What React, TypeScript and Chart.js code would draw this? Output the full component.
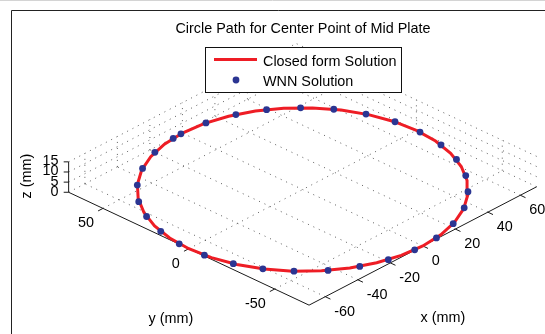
import { useEffect, useRef } from "react";
import { Chart, registerables } from "chart.js";

Chart.register(...registerables);

// ---------- text ----------
const TITLE = "Circle Path for Center Point of Mid Plate";
const SERIES_LINE = "Closed form Solution";
const SERIES_DOTS = "WNN Solution";
const X_LABEL = "x (mm)";
const Y_LABEL = "y (mm)";
const Z_LABEL = "z (mm)";

// ---------- axes ----------
const X_LIM = [-70, 70];
const Y_LIM = [-70, 70];
const Z_LIM = [0, 15];
const X_TICKS = [-60, -40, -20, 0, 20, 40, 60];
const Y_TICKS = [-50, 0, 50];
const Z_TICKS = [0, 5, 10, 15];

// ---------- data: closed form path (mm) ----------
const PATH_X = [
  70, 68.94, 65.78, 60.62, 53.62, 45, 35, 23.94, 12.16, 0,
  -12.16, -23.94, -35, -45, -53.62, -60.62, -65.78, -68.94, -70,
  -68.94, -65.78, -60.62, -53.62, -45, -35, -23.94, -12.16, 0,
  12.16, 23.94, 35, 45, 53.62, 60.62, 65.78, 68.94, 70,
];
const PATH_Y = [
  0, 12.16, 23.94, 35, 45, 53.62, 60.62, 65.78, 68.94, 70,
  68.94, 65.78, 60.62, 53.62, 45, 35, 23.94, 12.16, 0,
  -12.16, -23.94, -35, -45, -53.62, -60.62, -65.78, -68.94, -70,
  -68.94, -65.78, -60.62, -53.62, -45, -35, -23.94, -12.16, 0,
];
const PATH_Z = 0;

// ---------- data: WNN solution points (mm) ----------
const WNN_X = [
  27.1, 39.1, 50.2, 59.0, 65.4, 69.1, 70.0, 68.1, 63.6, 56.3, 46.9, 35.8,
  22.7, 9.0, -4.8, -18.6, -31.1, -42.9, -53.3, -60.9, -66.3, -69.5, -69.8,
  -67.4, -62.3, -55.4, -45.5, -33.6, -20.0, -6.0, -0.9, 13.2,
];
const WNN_Y = [
  64.5, 58.0, 48.7, 37.7, 25.0, 11.6, -2.1, -16.1, -29.4, -41.7, -51.9, -60.2,
  -66.2, -69.4, -69.8, -67.5, -62.7, -55.4, -45.4, -34.5, -22.4, -8.6, 5.8,
  18.8, 31.9, 43.0, 53.2, 61.4, 67.1, 69.7, 70.0, 68.8,
];
const WNN_Z = 0;

// ---------- view (orthographic projection of the 3-D box) ----------
const W = 545;
const H = 334;
const ORIGIN = { x: 303, y: 190 };
const EX = { x: 1.646, y: -0.863 };
const EY = { x: -1.739, y: -0.823 };
const EZ = 2.07;
const FONT = "14.4px 'Liberation Sans', Arial, Helvetica, sans-serif";

function proj(x: number, y: number, z: number) {
  return {
    x: ORIGIN.x + x * EX.x + y * EY.x,
    y: ORIGIN.y + x * EX.y + y * EY.y - z * EZ,
  };
}

function seg(a: { x: number; y: number }, b: { x: number; y: number }, color: string, width: number, dash: number[], order: number) {
  return {
    label: "",
    data: [a, b],
    showLine: true,
    borderColor: color,
    borderWidth: width,
    borderDash: dash,
    pointRadius: 0,
    pointHoverRadius: 0,
    fill: false,
    order,
  };
}

export default function App() {
  const ref = useRef<HTMLCanvasElement | null>(null);

  useEffect(() => {
    document.body.style.margin = "0";
    const canvas = ref.current;
    if (!canvas) return;

    const GRID = "rgba(40,40,40,0.75)";
    const GDASH = [1, 5];
    const AX = "#1a1a1a";
    const [x0, x1] = X_LIM;
    const [y0, y1] = Y_LIM;
    const [z0, z1] = Z_LIM;

    const datasets: any[] = [];
    datasets.push({
      label: SERIES_DOTS,
      data: WNN_X.map((x, i) => proj(x, WNN_Y[i], WNN_Z)),
      showLine: false,
      pointRadius: 3.4,
      pointHoverRadius: 3.4,
      pointBackgroundColor: "#2b3592",
      pointBorderWidth: 0,
      order: 0,
    });
    datasets.push({
      label: SERIES_LINE,
      data: PATH_X.map((x, i) => proj(x, PATH_Y[i], PATH_Z)),
      showLine: true,
      borderColor: "#ee1d25",
      borderWidth: 3,
      pointRadius: 0,
      pointHoverRadius: 0,
      tension: 0,
      fill: false,
      order: 1,
    });

    // axis lines
    datasets.push(seg(proj(x0, y0, z0), proj(x1, y0, z0), AX, 1, [], 2));
    datasets.push(seg(proj(x0, y0, z0), proj(x0, y1, z0), AX, 1, [], 2));
    datasets.push(seg(proj(x0, y1, z0), proj(x0, y1, z1), AX, 1, [], 2));
    // tick marks (outward)
    X_TICKS.forEach((t) => datasets.push(seg(proj(t, y0, z0), proj(t, y0 - 3, z0), AX, 1, [], 2)));
    Y_TICKS.forEach((t) => datasets.push(seg(proj(x0, t, z0), proj(x0 - 3, t, z0), AX, 1, [], 2)));
    Z_TICKS.forEach((t) => {
      const p = proj(x0, y1, t);
      datasets.push(seg(p, { x: p.x - 5, y: p.y }, AX, 1, [], 2));
    });

    // floor grid
    X_TICKS.forEach((t) => datasets.push(seg(proj(t, y0, z0), proj(t, y1, z0), GRID, 1, GDASH, 3)));
    Y_TICKS.forEach((t) => datasets.push(seg(proj(x0, t, z0), proj(x1, t, z0), GRID, 1, GDASH, 3)));
    // back wall x = x1
    Y_TICKS.forEach((t) => datasets.push(seg(proj(x1, t, z0), proj(x1, t, z1), GRID, 1, GDASH, 3)));
    Z_TICKS.forEach((t) => datasets.push(seg(proj(x1, y0, t), proj(x1, y1, t), GRID, 1, GDASH, 3)));
    // back wall y = y1
    X_TICKS.forEach((t) => datasets.push(seg(proj(t, y1, z0), proj(t, y1, z1), GRID, 1, GDASH, 3)));
    Z_TICKS.forEach((t) => datasets.push(seg(proj(x0, y1, t), proj(x1, y1, t), GRID, 1, GDASH, 3)));

    const decor = {
      id: "decor",
      afterDatasetsDraw(chart: any) {
        const ctx = chart.ctx as CanvasRenderingContext2D;
        const sx = (v: number) => chart.scales.x.getPixelForValue(v);
        const sy = (v: number) => chart.scales.y.getPixelForValue(v);
        ctx.save();

        // frame
        ctx.strokeStyle = "#d4d4d4";
        ctx.lineWidth = 1;
        ctx.beginPath();
        ctx.moveTo(0, 0.5);
        ctx.lineTo(W, 0.5);
        ctx.stroke();
        ctx.strokeStyle = "#222";
        ctx.beginPath();
        ctx.moveTo(11.5, H);
        ctx.lineTo(11.5, 10.5);
        ctx.lineTo(W, 10.5);
        ctx.stroke();

        ctx.fillStyle = "#000";
        ctx.font = FONT;
        // title
        ctx.textAlign = "center";
        ctx.textBaseline = "alphabetic";
        ctx.fillText(TITLE, 303, 33);

        // x tick labels
        ctx.textAlign = "left";
        X_TICKS.forEach((t) => {
          const p = proj(t, y0, z0);
          ctx.fillText(String(t), sx(p.x) + 9, sy(p.y) + 19);
        });
        // y tick labels
        ctx.textAlign = "right";
        Y_TICKS.forEach((t) => {
          const p = proj(x0, t, z0);
          ctx.fillText(String(t), sx(p.x) - 9, sy(p.y) + 19);
        });
        // z tick labels
        Z_TICKS.forEach((t) => {
          const p = proj(x0, y1, t);
          ctx.fillText(String(t), sx(p.x) - 10, sy(p.y) + 3.5);
        });

        // axis labels
        ctx.textAlign = "center";
        ctx.fillText(X_LABEL, 443, 322);
        ctx.fillText(Y_LABEL, 171, 323);
        ctx.save();
        ctx.translate(30.5, 176);
        ctx.rotate(-Math.PI / 2);
        ctx.fillText(Z_LABEL, 0, 0);
        ctx.restore();

        // legend
        ctx.fillStyle = "#fff";
        ctx.fillRect(205.5, 47.5, 196, 45);
        ctx.strokeStyle = "#111";
        ctx.lineWidth = 1;
        ctx.strokeRect(205.5, 47.5, 196, 45);
        ctx.strokeStyle = "#ee1d25";
        ctx.lineWidth = 3;
        ctx.beginPath();
        ctx.moveTo(214, 59.5);
        ctx.lineTo(257, 59.5);
        ctx.stroke();
        ctx.fillStyle = "#2b3592";
        ctx.beginPath();
        ctx.arc(236, 80, 3.4, 0, Math.PI * 2);
        ctx.fill();
        ctx.fillStyle = "#000";
        ctx.textAlign = "left";
        ctx.fillText(SERIES_LINE, 263, 66);
        ctx.fillText(SERIES_DOTS, 263, 86);

        ctx.restore();
      },
    };

    const chart = new Chart(canvas, {
      type: "scatter",
      data: { datasets },
      options: {
        animation: false,
        responsive: false,
        maintainAspectRatio: false,
        devicePixelRatio: 1,
        layout: { padding: 0 },
        events: [],
        scales: {
          x: { type: "linear", min: 0, max: W, display: false },
          y: { type: "linear", min: 0, max: H, reverse: true, display: false },
        },
        plugins: {
          legend: { display: false },
          tooltip: { enabled: false },
          title: { display: false },
        },
      },
      plugins: [decor],
    } as any);

    return () => chart.destroy();
  }, []);

  return (
    <div style={{ width: W, height: H, background: "#fff" }}>
      <canvas ref={ref} width={W} height={H} style={{ display: "block", width: W, height: H }} />
    </div>
  );
}
